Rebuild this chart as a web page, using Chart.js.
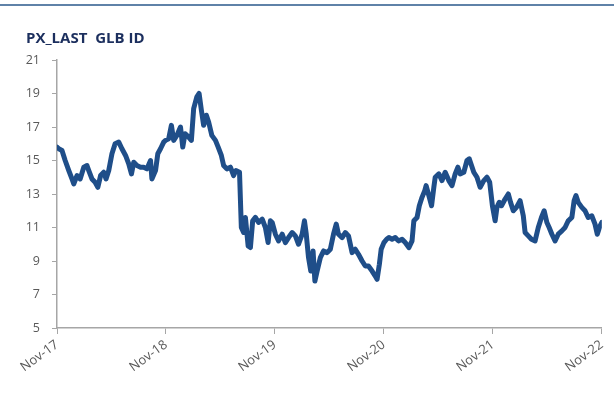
<!DOCTYPE html>
<html>
<head>
<meta charset="utf-8">
<script src="https://cdn.jsdelivr.net/npm/chart.js@4"></script>
<style>
    body { margin: 0; background: #fff; }
    #wrap { position: relative; width: 614px; height: 397px; }
    #topLine { position: absolute; left: 0; top: 4px; width: 614px; height: 0; border-top: 2px solid #5f82a8; }
    #title { position: absolute; left: 26px; top: 27px; font: bold 15px "Open Sans", sans-serif; color: #1c2f5e; white-space: pre; }
</style>
</head>
<body>
<div id="wrap">
    <div id="topLine"></div>
    <div id="title">PX_LAST  GLB ID</div>
    <canvas id="myChart" width="614" height="397"></canvas>
</div>
<script>
// months since Nov-17
let months = [0.0, 0.2, 0.55, 0.9, 1.3, 1.65, 1.85, 2.2, 2.55, 2.95, 3.3, 3.5, 3.85, 4.2, 4.5, 4.8, 5.15, 5.4, 5.7, 6.05,
    6.4, 6.8, 7.15, 7.55, 7.9, 8.2, 8.45, 8.8, 9.2, 9.55, 9.9, 10.3, 10.45, 10.85, 11.1, 11.4, 11.75, 11.95, 12.3, 12.6,
    12.85, 13.2, 13.6, 13.85, 14.1, 14.5, 14.8, 15.05, 15.4, 15.65, 15.9, 16.15, 16.45, 16.7, 17.05, 17.45, 17.75, 18.1, 18.35, 18.7,
    19.1, 19.45, 19.7, 20.1, 20.3, 20.55, 20.75, 21.05, 21.3, 21.55, 21.85, 22.2, 22.6, 22.95, 23.25, 23.5, 23.7, 24.05, 24.4, 24.8,
    25.15, 25.5, 25.9, 26.25, 26.6, 27.0, 27.25, 27.45, 27.7, 27.95, 28.2, 28.4, 28.65, 29.0, 29.35, 29.75, 30.1, 30.45, 30.75, 31.0,
    31.4, 31.75, 32.1, 32.5, 32.85, 33.2, 33.6, 33.95, 34.3, 34.7, 35.05, 35.25, 35.5, 35.7, 36.0, 36.3, 36.55, 36.9, 37.25, 37.6,
    38.0, 38.35, 38.75, 39.1, 39.3, 39.65, 39.9, 40.2, 40.5, 40.65, 40.95, 41.25, 41.5, 41.65, 42.05, 42.4, 42.75, 43.15, 43.5, 43.85,
    44.15, 44.4, 44.8, 45.15, 45.4, 45.65, 45.9, 46.25, 46.6, 47.0, 47.35, 47.65, 47.95, 48.25, 48.45, 48.7, 48.95, 49.35, 49.7, 49.95,
    50.25, 50.6, 51.0, 51.35, 51.55, 51.9, 52.25, 52.65, 53.0, 53.35, 53.65, 53.95, 54.2, 54.5, 54.85, 55.2, 55.6, 55.95, 56.3, 56.7,
    56.95, 57.15, 57.4, 57.8, 58.15, 58.5, 58.9, 59.25, 59.5, 59.8, 60.0];

let pxLast = [15.8, 15.7, 15.6, 15.0, 14.4, 13.9, 13.6, 14.1, 13.9, 14.6, 14.7, 14.4, 13.9, 13.7, 13.4, 14.1, 14.3, 13.9, 14.4, 15.4,
    16.0, 16.1, 15.7, 15.3, 14.8, 14.2, 14.9, 14.7, 14.6, 14.6, 14.5, 15.0, 13.9, 14.4, 15.4, 15.7, 16.1, 16.2, 16.3, 17.1,
    16.2, 16.5, 17.0, 15.8, 16.6, 16.4, 16.2, 18.1, 18.8, 19.0, 18.0, 17.1, 17.7, 17.3, 16.5, 16.2, 15.8, 15.3, 14.7, 14.5,
    14.6, 14.1, 14.4, 14.3, 11.0, 10.7, 11.6, 9.9, 9.8, 11.4, 11.6, 11.3, 11.5, 11.0, 10.1, 11.4, 11.3, 10.6, 10.2, 10.6,
    10.1, 10.4, 10.7, 10.5, 10.0, 10.6, 11.4, 10.6, 9.2, 8.4, 9.6, 7.8, 8.4, 9.2, 9.6, 9.5, 9.7, 10.6, 11.2, 10.6,
    10.4, 10.7, 10.5, 9.5, 9.7, 9.4, 9.0, 8.7, 8.7, 8.4, 8.1, 7.9, 8.8, 9.7, 10.1, 10.3, 10.4, 10.3, 10.4, 10.2,
    10.3, 10.1, 9.8, 10.2, 11.4, 11.6, 12.3, 12.8, 13.2, 13.5, 12.9, 12.3, 13.4, 14.0, 14.2, 13.8, 14.3, 13.8, 13.5, 14.2,
    14.6, 14.2, 14.3, 15.0, 15.1, 14.7, 14.3, 14.0, 13.4, 13.8, 14.0, 13.7, 12.3, 11.4, 12.2, 12.5, 12.3, 12.7, 13.0, 12.5,
    12.0, 12.2, 12.6, 11.7, 10.7, 10.5, 10.3, 10.2, 11.0, 11.6, 12.0, 11.3, 11.0, 10.6, 10.2, 10.6, 10.8, 11.0, 11.4, 11.6,
    12.6, 12.9, 12.5, 12.2, 12.0, 11.6, 11.7, 11.2, 10.6, 11.1, 11.3];

let xTickLabels = ['Nov-17', 'Nov-18', 'Nov-19', 'Nov-20', 'Nov-21', 'Nov-22'];

let points = [];
for (let i in months) {
    points.push({ x: months[i], y: pxLast[i] });
}

let axisGrey = '#a6a6a6';

let myChart = new Chart(document.getElementById('myChart'), {
    type: 'line',
    data: {
        datasets: [{
            label: 'PX_LAST GLB ID',
            data: points,
            borderColor: '#1f4e89',
            borderWidth: 5,
            borderJoinStyle: 'round',
            borderCapStyle: 'round',
            pointRadius: 0,
            tension: 0,
            fill: false
        }]
    },
    options: {
        responsive: false,
        animation: false,
        layout: { padding: { top: 60, right: 12, left: 0, bottom: 0 } },
        plugins: {
            legend: { display: false },
            tooltip: { enabled: false }
        },
        scales: {
            x: {
                type: 'linear',
                min: 0,
                max: 60,
                afterFit: function (scale) { scale.height = 69; },
                border: { display: true, color: axisGrey, width: 1.5 },
                grid: { drawOnChartArea: false, color: axisGrey, tickLength: 6 },
                ticks: {
                    stepSize: 12,
                    autoSkip: false,
                    maxRotation: 36,
                    minRotation: 36,
                    padding: 3,
                    color: '#595959',
                    font: { family: 'Open Sans', size: 13 },
                    callback: function (v) { return xTickLabels[v / 12]; }
                }
            },
            y: {
                min: 5,
                max: 21,
                afterFit: function (scale) { scale.width = 57; },
                border: { display: true, color: axisGrey, width: 1.5 },
                grid: { drawOnChartArea: false, color: axisGrey, tickLength: 5 },
                ticks: {
                    stepSize: 2,
                    padding: 12,
                    color: '#595959',
                    font: { family: 'Open Sans', size: 12.5 }
                }
            }
        }
    }
});
</script>
</body>
</html>
